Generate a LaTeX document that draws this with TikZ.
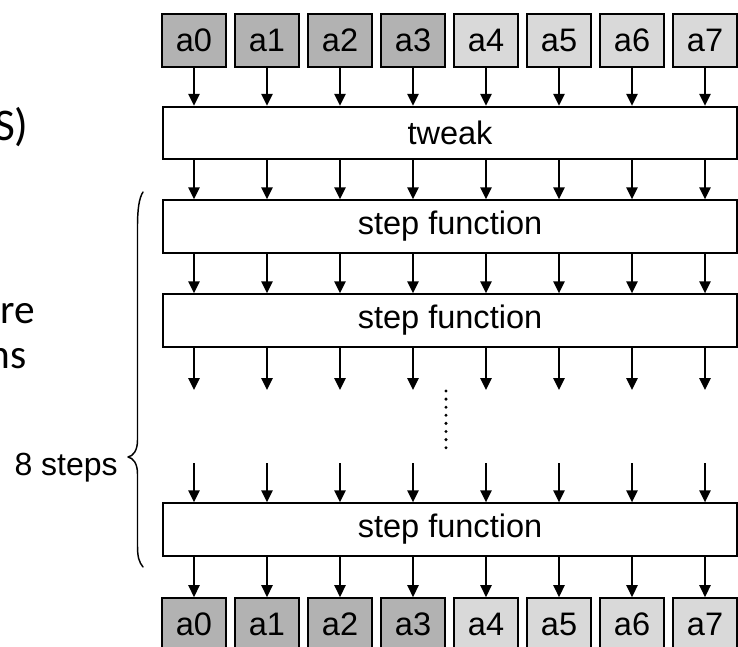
\documentclass[tikz,border=0pt]{standalone}
\usepackage{fontspec}
\setmainfont{Liberation Sans}
\newfontfamily\slidefont{Carlito}
\usetikzlibrary{arrows.meta}

\definecolor{celldark}{gray}{0.70}
\definecolor{celllight}{gray}{0.85}

\begin{document}
\begin{tikzpicture}[x=0.75pt,y=-0.75pt,
  cell/.style={draw, line width=1.3pt, minimum width=48pt, minimum height=39.75pt,
               inner sep=0pt, font=\fontsize{24.4}{28}\selectfont},
  darkcell/.style={cell, fill=celldark},
  lightcell/.style={cell, fill=celllight},
  stage/.style={draw, line width=1.3pt, fill=white, minimum width=430.5pt,
                minimum height=39.5pt, inner sep=0pt, font=\fontsize{24.4}{28}\selectfont},
  arr/.style={line width=1.2pt, -{Triangle[width=8.5pt,length=9pt]}},
  bracestyle/.style={line width=1.1pt, line join=round, line cap=round},
  slide/.style={anchor=base east, inner sep=0pt, font=\slidefont\fontsize{31}{37}\selectfont}
]
\useasboundingbox (0,0) rectangle (738,646);
\clip (0,0) rectangle (738,646);

% text fragments at the left edge
\node[slide, font=\slidefont\fontsize{34}{40}\selectfont] (f1) at (29,140) {S)};
\node[slide] (f2) at (35,323) {re};
\node[slide] (f3) at (27,368) {ns};

% input and output cells
\foreach \i in {0,...,7} {
  \pgfmathsetmacro{\cx}{194+73*\i}
  \ifnum\i<4
    \node[darkcell] (t\i) at (\cx,40.5) {a\i};
    \node[darkcell] (b\i) at (\cx,624.5) {a\i};
  \else
    \node[lightcell] (t\i) at (\cx,40.5) {a\i};
    \node[lightcell] (b\i) at (\cx,624.5) {a\i};
  \fi
  \coordinate (g\i) at (\cx,390);
  \coordinate (h\i) at (\cx,463);
}

% processing stages
\node[stage] (tweak) at (450,133) {tweak};
\node[stage] (s1) at (450,226.5) {step function};
\node[stage] (s2) at (450,320.5) {step function};
\node[stage] (s3) at (450,529.5) {step function};

% connectors
\foreach \i in {0,...,7} {
  \draw[arr] (t\i) -- (t\i |- tweak.north);
  \draw[arr] (tweak.south -| t\i) -- (s1.north -| t\i);
  \draw[arr] (s1.south -| t\i) -- (s2.north -| t\i);
  \draw[arr] (s2.south -| t\i) -- (g\i);
  \draw[arr] (h\i) -- (s3.north -| t\i);
  \draw[arr] (s3.south -| b\i) -- (b\i);
}

% omitted steps
\foreach \k in {0,...,7}
  \fill (446,391+8.1*\k) circle[radius=1.25pt];

% brace over the step functions
\draw[bracestyle] (143,192) .. controls (139,198) and (137.5,210) .. (137.5,226)
  -- (137.5,440) .. controls (137.5,451) and (133,456) .. (128,457)
  .. controls (133,458) and (137.5,463) .. (137.5,474)
  -- (137.5,546) .. controls (137.5,557) and (139,562) .. (143,567);
\node[anchor=base east, inner sep=0pt, font=\fontsize{24}{28}\selectfont] (steps) at (118,475) {8 steps};
\end{tikzpicture}
\end{document}
